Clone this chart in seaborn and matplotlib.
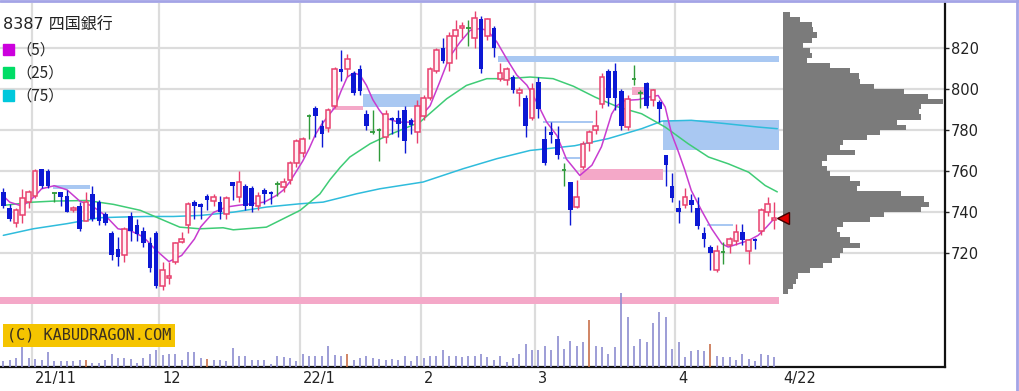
import numpy as np
import matplotlib
matplotlib.use("Agg")
import matplotlib.pyplot as plt
import matplotlib.patches as mpatches
import matplotlib.transforms as mtransforms
from matplotlib.lines import Line2D
import seaborn as sns

# daily candles, 2021/10/25 .. 2022/4/22 (index = trading day)
opens = [750, 742, 735, 738.5, 745, 748, 761, 760, 749.5, 750, 748, 741, 743, 736, 749, 745, 739, 730, 722, 719,
         738, 734, 731, 725, 730, 704, 708, 716, 725.5, 734, 745, 744, 748, 745.5, 745, 739, 755, 747.5, 753, 752,
         743, 751, 750, 754, 752.5, 756, 764, 769, 787, 791, 782, 781, 792, 810, 810, 808, 810, 788, 779, 780,
         777, 786, 786, 790, 785, 779, 787, 796, 809, 820, 813, 826, 830, 830, 825, 834.5, 826, 830, 805, 804.5,
         806, 798, 796, 786, 803.5, 776, 779, 776, 760.5, 755, 742.6, 762, 774, 780, 793, 809, 809, 799, 781.6, 805,
         798, 803, 794.6, 794, 768, 753, 742, 743.4, 746, 742, 730, 723, 711.7, 720.6, 724, 726, 730.4, 721.4, 727, 731,
         740, 736.5]
highs = [752, 744, 742, 751.5, 751, 761, 761, 761, 750, 750, 751, 743, 745, 750, 753, 746, 740, 731, 728, 733,
         740, 737, 733, 728, 731, 716, 716, 725.5, 730.5, 745, 746, 744.5, 749, 749, 748, 748, 755, 760, 754, 753,
         750, 752, 750.5, 755.5, 757, 765, 776, 777, 788, 792, 785, 791, 811, 819, 817, 809, 812, 790, 790, 781,
         790, 786.5, 790, 792, 786, 795, 797, 811, 820, 825, 828, 834, 833, 834, 838, 836, 835, 831, 813, 811,
         807, 801, 797, 803, 806, 782, 784, 782, 764, 755, 755.6, 775, 780, 790, 808, 810, 813, 800, 797, 812,
         799.5, 803.5, 800, 795, 768, 759, 746, 752, 749, 747.5, 733, 724, 724, 725.5, 728, 734.5, 734.5, 727, 727.5, 742,
         747.5, 745]
lows = [742, 736, 733, 735, 742, 747, 752, 752, 745, 743, 740, 740, 731, 736, 736, 734, 734, 717, 714, 716,
        726, 726, 723, 711, 703, 702, 705, 715, 725, 730, 737, 737, 741, 743, 737, 737, 746, 745, 741, 740,
        741, 744, 744, 748, 750, 754, 762, 767, 776, 777, 772, 779, 791, 804, 806, 797, 797, 780, 778, 765,
        774, 778, 777, 769, 778, 774, 785, 795, 808, 813, 809, 815, 825, 821, 820, 808, 824, 816, 804, 802,
        798, 792, 777, 785, 786, 763, 774, 766, 753, 734, 742, 761, 770, 778, 791, 792, 790, 780, 780, 802,
        791, 791, 792, 784, 753, 745, 735, 742, 740, 732, 723, 712, 711, 715, 720, 724, 724, 715, 722, 729,
        738, 732]
closes = [743, 737, 741, 747, 750, 760, 753, 753, 749.5, 747.5, 740, 742, 732, 745, 737, 736, 735, 719, 718, 732,
          731, 729.5, 725, 713, 704, 712, 709, 725, 727, 744, 743, 742.5, 746, 747.5, 740, 747, 753, 755, 743, 743,
          748, 749, 749, 754, 755, 764, 775, 776, 787, 787, 778, 790, 810, 808.5, 815, 798, 799, 782, 779, 780,
          788, 785, 783, 775, 782.5, 792, 796, 810, 819, 814, 826, 829, 831, 830, 835, 810, 834.5, 820, 808, 810,
          799.5, 799.5, 782, 800, 790.5, 764, 777.5, 768, 760.5, 741, 747.5, 773.5, 779, 782, 806, 796, 796, 782, 795.4, 805,
          798, 792, 799.5, 790.6, 763, 747, 740, 747.5, 743.4, 733.6, 727, 720, 721.4, 720.6, 727, 730.5, 726.3, 726.3, 726, 741,
          744, 737.5]
volumes = [17, 22, 27, 67, 27, 24, 22, 44, 17, 17, 17, 17, 20, 20, 12, 12, 20, 40, 27, 27,
           24, 12, 27, 40, 50, 37, 40, 40, 22, 44, 44, 27, 24, 20, 20, 17, 57, 34, 34, 20,
           20, 22, 10, 34, 30, 27, 17, 40, 32, 32, 32, 64, 37, 32, 40, 22, 27, 32, 27, 24,
           22, 24, 20, 34, 17, 34, 27, 34, 34, 50, 34, 34, 30, 32, 34, 40, 30, 22, 34, 14,
           27, 40, 70, 50, 50, 64, 50, 92, 54, 79, 64, 74, 140, 64, 59, 40, 59, 222, 150, 64,
           84, 74, 132, 165, 150, 54, 74, 30, 47, 50, 47, 69, 34, 30, 30, 20, 40, 25, 17, 40,
           37, 30]
vol_marked = [13, 32, 54, 92, 111]

# moving averages
ma5_x = [0, 1, 3, 5, 6, 8, 10, 12, 14, 16, 18, 20, 22, 24, 26, 28, 30, 31, 33, 35, 37, 39, 41, 43, 44, 45, 46,
         47, 48, 49, 50, 51, 52, 53, 54, 55, 56, 57, 58, 59, 60, 62, 64, 65, 67, 68.5, 70, 71.7, 73.3, 74.8, 76,
         77.5, 79, 80.6, 82.2, 83.7, 85.3, 86.9, 88.4, 90.5, 92.4, 93.9, 95.5, 96.3, 97.6, 99.7, 101.3, 102.8,
         103.9, 104.9, 105.9, 107, 108, 109.6, 111.2, 112.8, 113.8, 115.4, 117, 118.5, 119.8, 121]
ma5_y = [748, 745, 743, 748, 751.5, 753, 751, 745.5, 743, 738.5, 732, 731, 728, 721.5, 716, 719, 727, 733, 740,
         742.6, 743.5, 744.2, 745, 748.5, 751, 755, 760, 765, 771, 778, 783, 787, 791, 799, 806, 808, 807, 802,
         795, 790, 786, 784, 784, 785, 792, 803.5, 815.5, 823, 828.8, 829.6, 828.8, 823, 815, 807, 802, 794, 784,
         777.5, 766, 758, 763, 772, 788, 792, 794.6, 795, 796.2, 797, 791.4, 778.4, 770.2, 760.5, 750.7, 741, 732,
         724.7, 723.1, 724.7, 726.3, 728.8, 732.8, 736.9]
ma25_x = [0, 4.7, 7.9, 13.1, 17.3, 21.5, 24.6, 27.7, 30.9, 34.5, 36.1, 41.3, 42.4, 46.6, 49.7, 51.3, 52.9, 54.4,
          57.6, 60.7, 65.4, 69.6, 72.7, 75.9, 79, 82.7, 86.3, 89.5, 92.9, 96.5, 100.2, 103.9, 107.5, 110.7, 113.8,
          117, 119.6, 121.5]
ma25_y = [743.4, 745, 745.5, 745.8, 743.9, 741, 736.9, 732.8, 732, 732.5, 731.5, 732.8, 734.5, 741, 749, 756, 762,
          767, 773.5, 778, 784, 795.4, 801.9, 805.2, 805.2, 806, 805.2, 801.5, 796.2, 791.4, 788.1, 781.6, 773.5,
          767, 763.7, 759.6, 753.1, 750]
ma75_x = [0, 4.7, 10, 15.2, 18.3, 22.5, 26.7, 30.9, 36.1, 41.3, 46.6, 50.2, 55.5, 59.1, 65.9, 72.2, 77.5, 82.7,
          89.7, 95, 100.2, 103.4, 108, 113.3, 118.5, 121.5]
ma75_y = [728.8, 732, 734.5, 737.4, 737.7, 738, 738, 738.5, 740.1, 742.6, 744.2, 745, 749.1, 751.5, 754.8, 761.3,
          766.2, 770.2, 772.5, 776, 780.8, 784.5, 784.9, 783.3, 781.6, 780.8]

# open price gaps (窓)
gap_start = [7.8, 51.6, 56.5, 77.7, 84.8, 87.9, 90.5, 98.7, 103.6, 110.5, -0.6]
gap_end = [13.6, 56.5, 65.4, 121.7, 92.6, 90.5, 103.6, 100.5, 121.7, 114.6, 121.7]
gap_low = [751.5, 789.9, 791.4, 813.3, 783.6, 766.0, 755.6, 797.0, 770.2, 733.3, 695.1]
gap_high = [753.2, 791.8, 797.9, 816.1, 784.8, 767.2, 761.3, 801.3, 784.9, 734.5, 698.9]
gap_kind = ["down", "up", "down", "down", "down", "down", "up", "up", "down", "down", "up"]

# volume by price
profile_price = np.arange(836.5, 699, -2.5)[:55]
profile_vol = [20, 50, 85, 90, 100, 85, 60, 80, 85, 70, 140, 200, 225, 230, 270, 360, 430, 475, 410, 405,
               410, 340, 365, 290, 250, 180, 170, 215, 130, 115, 130, 140, 200, 230, 220, 350, 420, 435, 410, 300,
               260, 180, 160, 170, 200, 230, 180, 170, 145, 120, 80, 45, 40, 30, 15]

month_pos = [4.5, 24.5, 46.5, 65.5, 83.5, 105.5]
month_labels = ["21/11", "12", "22/1", "2", "3", "4"]
last_label = "4/22"
price_ticks = [720, 740, 760, 780, 800, 820]

sns.set_theme(style="white")
plt.rcParams['font.family'] = ['DejaVu Sans', 'Noto Sans CJK JP']

W, H = 1019, 391
fig = plt.figure(figsize=(W / 100, H / 100), dpi=100)
fig.patch.set_facecolor("white")


def box(x0, y0, x1, y1):
    return [x0 / W, 1 - y1 / H, (x1 - x0) / W, (y1 - y0) / H]


ax = fig.add_axes(box(0, 3, 945, 367))
axv = fig.add_axes(box(0, 280, 945, 367))
axp = fig.add_axes(box(783, 3, 945, 367))

xlim = (-0.52, 147.83)
ylim = (664.6, 842.1)

grid_c = "#dcdcdc"
for p in month_pos:
    ax.axvline(p, color=grid_c, lw=1.6, zorder=0)
for p in price_ticks:
    ax.axhline(p, color=grid_c, lw=1.6, zorder=0)

for s, e, lo, hi, k in zip(gap_start, gap_end, gap_low, gap_high, gap_kind):
    col = "#f4a8c8" if k == "up" else "#a9c8f2"
    ax.fill_between([s, e], lo, hi, color=col, lw=0, zorder=1)

sns.lineplot(x=ma75_x, y=ma75_y, ax=ax, color="#2fbcdc", lw=1.1, zorder=2)
sns.lineplot(x=ma25_x, y=ma25_y, ax=ax, color="#3fcc76", lw=1.1, zorder=2)
sns.lineplot(x=ma5_x, y=ma5_y, ax=ax, color="#c83cd0", lw=1.1, zorder=2)

idx = np.arange(len(closes))
o, hi_, lo_, c = (np.array(a, dtype=float) for a in (opens, highs, lows, closes))
up, dn, dj = c > o, c < o, c == o
up_c, dn_c, dj_c = "#e8406e", "#0c18d4", "#2f9a3a"
bw = 0.72
ax.vlines(idx[up], lo_[up], hi_[up], color=up_c, lw=1.0, zorder=3)
ax.bar(idx[up], (c - o)[up], bottom=o[up], width=bw, facecolor="#fff0f4", edgecolor=up_c, lw=1.1, zorder=4)
ax.vlines(idx[dn], lo_[dn], hi_[dn], color=dn_c, lw=1.0, zorder=3)
ax.bar(idx[dn], (o - c)[dn], bottom=c[dn], width=bw, color=dn_c, lw=0, zorder=4)
ax.vlines(idx[dj], lo_[dj], hi_[dj], color=dj_c, lw=1.0, zorder=3)
ax.hlines(c[dj], idx[dj] - bw / 2, idx[dj] + bw / 2, color=dj_c, lw=1.3, zorder=4)

ax.set_xlim(xlim)
ax.set_ylim(ylim)
for side in ["left", "top"]:
    ax.spines[side].set_visible(False)
for side in ["right", "bottom"]:
    ax.spines[side].set_color("#111111")
    ax.spines[side].set_linewidth(1.6)
ax.yaxis.tick_right()
ax.set_yticks(price_ticks)
ax.set_yticklabels([str(p) for p in price_ticks])
ax.tick_params(axis="y", direction="out", length=3, width=1, pad=1, labelsize=10.5, colors="#222222")
ax.set_xticks(month_pos + [len(closes)])
ax.set_xticklabels(month_labels + [last_label])
ax.tick_params(axis="x", length=0, pad=3, labelsize=10.5, colors="#222222")
offset = mtransforms.ScaledTranslation(3 / 100, 0, fig.dpi_scale_trans)
for lab in ax.get_xticklabels():
    lab.set_horizontalalignment("left")
    lab.set_transform(lab.get_transform() + offset)
ax.grid(False)

# volume
vcol = ["#c8704a" if i in vol_marked else "#8c8cd0" for i in idx]
axv.vlines(idx, 0, volumes, colors=vcol, lw=1.2)
axv.set_xlim(xlim)
axv.set_ylim(0, 261)
axv.set_axis_off()
axv.patch.set_visible(False)

# price profile
axp.barh(profile_price, profile_vol, height=2.5, color="#7b7b7b", lw=0)
axp.plot([0], [closes[-1]], marker="<", ms=8, mfc="#e00000", mec="#400000", mew=1, clip_on=False, zorder=5)
axp.set_xlim(0, 482)
axp.set_ylim(ylim)
axp.set_axis_off()
axp.patch.set_visible(False)

fig.text(3 / W, 1 - 25 / H, "8387 四国銀行", va="center", ha="left", fontsize=11.5,
         family=["DejaVu Sans", "Noto Sans CJK JP"], color="#222222")
handles = [mpatches.Patch(color="#cc00dd"), mpatches.Patch(color="#00dd66"), mpatches.Patch(color="#00c8dc")]
fig.legend(handles, ["（5）", "（25）", "（75）"], loc="upper left", bbox_to_anchor=(3 / W, 1 - 42 / H),
           bbox_transform=fig.transFigure, frameon=False, borderpad=0, borderaxespad=0,
           handlelength=0.75, handleheight=0.75, handletextpad=0.15, labelspacing=0.38,
           prop={"family": ["Noto Sans CJK JP", "DejaVu Sans"], "size": 11})

fig.text(7 / W, 1 - 335.5 / H, "(C) KABUDRAGON.COM", va="center", ha="left", fontsize=11,
         family="DejaVu Sans Mono", color="#3a3020",
         bbox=dict(boxstyle="square,pad=0.25", fc="#f5c400", ec="none"))

fig.add_artist(Line2D([0, 1], [1 - 1 / H, 1 - 1 / H], transform=fig.transFigure, color="#a4a4e6", lw=2))
fig.add_artist(Line2D([1017 / W, 1017 / W], [0, 1], transform=fig.transFigure, color="#a4a4e6", lw=2))

fig.savefig("out.png", dpi=100)
